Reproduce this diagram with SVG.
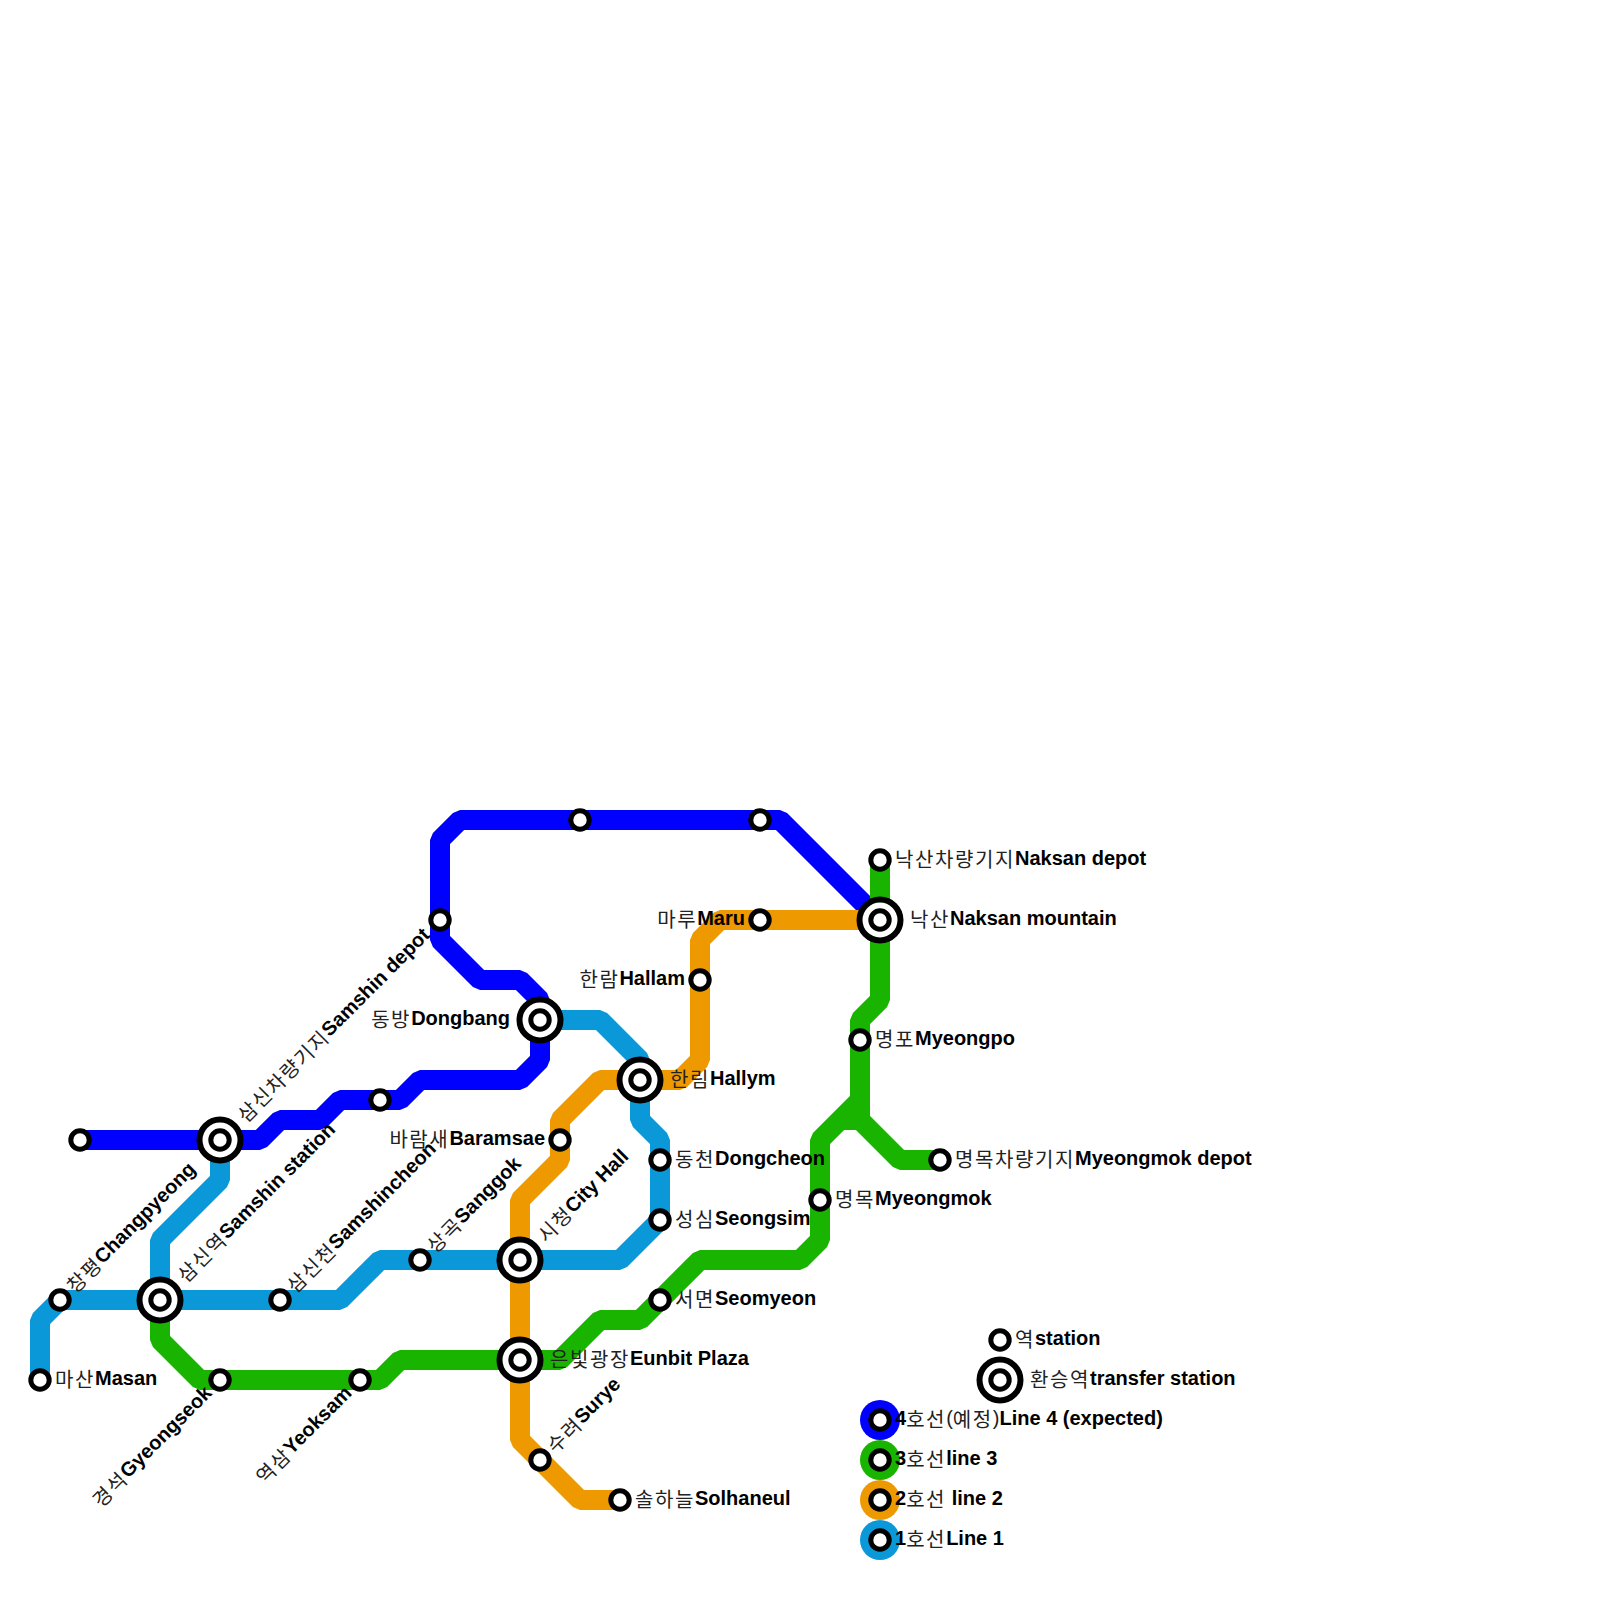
<svg xmlns="http://www.w3.org/2000/svg" width="1600" height="1600" viewBox="0 0 1600 1600">
<style>
.l{fill:none;stroke-width:20;stroke-linejoin:bevel;stroke-linecap:butt}
.l1{stroke:#0b98d8}.l2{stroke:#ee9900}.l3{stroke:#18b400}.l4{stroke:#0000ff}
.s{fill:#fff;stroke:#000;stroke-width:5}
.r{fill:#fff;stroke:#000;stroke-width:6}
.t{font-family:"Liberation Sans","Noto Sans CJK KR",sans-serif;font-size:20px;fill:#000;font-weight:bold}
.k{font-family:"Noto Sans CJK KR",sans-serif;font-weight:400;font-size:20px;letter-spacing:1.6px;fill:#222;baseline-shift:-1.5px}
.p{font-family:"Liberation Sans",sans-serif;font-weight:400;font-size:20px;fill:#222}
.e{text-anchor:end}
</style>
<defs>
<g id="st"><circle class="s" r="9.2"/></g>
<g id="tr"><circle class="r" r="20.5"/><circle class="s" r="9.2"/></g>
</defs>
<g id="connectors">
<path id="line4" class="l l4" d="M80 1140H260L280 1120H320L340 1100H400L420 1080H520L540 1060V1000L520 980H480L440 940V840L460 820H780L880 920"/>
<path id="line1" class="l l1" d="M40 1380V1320L60 1300H340L380 1260H620L660 1220V1140L640 1120V1060L600 1020H540"/>
<path id="line1b" class="l l1" d="M160 1300V1240L220 1180V1140"/>
<path id="line3" class="l l3" d="M880 860V1000L860 1020V1120L900 1160H940"/>
<path id="line3b" class="l l3" d="M860 1100L820 1140V1240L800 1260H700L640 1320H600L560 1360H400L380 1380H200L160 1340V1300"/>
<path id="line3c" class="l l3" d="M840 1120H860"/>
<path id="line2" class="l l2" d="M880 920H720L700 940V1060L680 1080H600L560 1120V1160L520 1200V1440L580 1500H620"/>
</g>
<g id="n-changpyeong"><use href="#st" x="60" y="1300"/><text class="t" transform="translate(60 1300) rotate(-45)" x="15" y="5"><tspan class="k">창평</tspan>Changpyeong</text></g>
<g id="n-masan"><use href="#st" x="40" y="1380"/><text class="t" x="55" y="1385"><tspan class="k">마산</tspan>Masan</text></g>
<g id="n-a"><use href="#st" x="80" y="1140"/></g>
<g id="n-depot"><use href="#tr" x="220" y="1140"/><text class="t" transform="translate(220 1140) rotate(-45)" x="30" y="5"><tspan class="k">삼신차량기지</tspan>Samshin depot</text></g>
<g id="n-samshin"><use href="#tr" x="160" y="1300"/><text class="t" transform="translate(160 1300) rotate(-45)" x="30" y="5"><tspan class="k">삼신역</tspan>Samshin station</text></g>
<g id="n-samshincheon"><use href="#st" x="280" y="1300"/><text class="t" transform="translate(280 1300) rotate(-45)" x="15" y="5"><tspan class="k">삼신천</tspan>Samshincheon</text></g>
<g id="n-b"><use href="#st" x="380" y="1100"/></g>
<g id="n-c"><use href="#st" x="440" y="920"/></g>
<g id="n-sanggok"><use href="#st" x="420" y="1260"/><text class="t" transform="translate(420 1260) rotate(-45)" x="15" y="5"><tspan class="k">상곡</tspan>Sanggok</text></g>
<g id="n-gyeongseok"><use href="#st" x="220" y="1380"/><text class="t e" transform="translate(220 1380) rotate(-45)" x="-15" y="5"><tspan class="k">경석</tspan>Gyeongseok</text></g>
<g id="n-yeoksam"><use href="#st" x="360" y="1380"/><text class="t e" transform="translate(360 1380) rotate(-45)" x="-15" y="5"><tspan class="k">역삼</tspan>Yeoksam</text></g>
<g id="n-cityhall"><use href="#tr" x="520" y="1260"/><text class="t" transform="translate(520 1260) rotate(-45)" x="30" y="5"><tspan class="k">시청</tspan>City Hall</text></g>
<g id="n-eunbit"><use href="#tr" x="520" y="1360"/><text class="t" x="550" y="1365"><tspan class="k">은빛광장</tspan>Eunbit Plaza</text></g>
<g id="n-surye"><use href="#st" x="540" y="1460"/><text class="t" transform="translate(540 1460) rotate(-45)" x="15" y="5"><tspan class="k">수려</tspan>Surye</text></g>
<g id="n-solhaneul"><use href="#st" x="620" y="1500"/><text class="t" x="635" y="1505"><tspan class="k">솔하늘</tspan>Solhaneul</text></g>
<g id="n-dongbang"><use href="#tr" x="540" y="1020"/><text class="t e" x="510" y="1025"><tspan class="k">동방</tspan>Dongbang</text></g>
<g id="n-d"><use href="#st" x="580" y="820"/></g>
<g id="n-e"><use href="#st" x="760" y="820"/></g>
<g id="n-maru"><use href="#st" x="760" y="920"/><text class="t e" x="745" y="925"><tspan class="k">마루</tspan>Maru</text></g>
<g id="n-hallam"><use href="#st" x="700" y="980"/><text class="t e" x="685" y="985"><tspan class="k">한람</tspan>Hallam</text></g>
<g id="n-hallym"><use href="#tr" x="640" y="1080"/><text class="t" x="670" y="1085"><tspan class="k">한림</tspan>Hallym</text></g>
<g id="n-baramsae"><use href="#st" x="560" y="1140"/><text class="t e" x="545" y="1145"><tspan class="k">바람새</tspan>Baramsae</text></g>
<g id="n-dongcheon"><use href="#st" x="660" y="1160"/><text class="t" x="675" y="1165"><tspan class="k">동천</tspan>Dongcheon</text></g>
<g id="n-seongsim"><use href="#st" x="660" y="1220"/><text class="t" x="675" y="1225"><tspan class="k">성심</tspan>Seongsim</text></g>
<g id="n-seomyeon"><use href="#st" x="660" y="1300"/><text class="t" x="675" y="1305"><tspan class="k">서면</tspan>Seomyeon</text></g>
<g id="n-myeongmok"><use href="#st" x="820" y="1200"/><text class="t" x="835" y="1205"><tspan class="k">명목</tspan>Myeongmok</text></g>
<g id="n-myeongpo"><use href="#st" x="860" y="1040"/><text class="t" x="875" y="1045"><tspan class="k">명포</tspan>Myeongpo</text></g>
<g id="n-mdepot"><use href="#st" x="940" y="1160"/><text class="t" x="955" y="1165"><tspan class="k">명목차량기지</tspan>Myeongmok depot</text></g>
<g id="n-ndepot"><use href="#st" x="880" y="860"/><text class="t" x="895" y="865"><tspan class="k">낙산차량기지</tspan>Naksan depot</text></g>
<g id="n-naksan"><use href="#tr" x="880" y="920"/><text class="t" x="910" y="925"><tspan class="k">낙산</tspan>Naksan mountain</text></g>
<g id="legend-station"><use href="#st" x="1000" y="1340"/><text class="t" x="1015" y="1345"><tspan class="k">역</tspan>station</text></g>
<g id="legend-transfer"><use href="#tr" x="1000" y="1380"/><text class="t" x="1030" y="1385"><tspan class="k">환승역</tspan>transfer station</text></g>
<g id="legend-4"><circle cx="880" cy="1420" r="20" fill="#0000ff"/><use href="#st" x="880" y="1420"/><text class="t" x="895" y="1425">4<tspan class="k">호선</tspan><tspan class="p">(</tspan><tspan class="k">예정</tspan><tspan class="p">)</tspan>Line 4 (expected)</text></g>
<g id="legend-3"><circle cx="880" cy="1460" r="20" fill="#18b400"/><use href="#st" x="880" y="1460"/><text class="t" x="895" y="1465">3<tspan class="k">호선</tspan>line 3</text></g>
<g id="legend-2"><circle cx="880" cy="1500" r="20" fill="#ee9900"/><use href="#st" x="880" y="1500"/><text class="t" x="895" y="1505">2<tspan class="k">호선</tspan> line 2</text></g>
<g id="legend-1"><circle cx="880" cy="1540" r="20" fill="#0b98d8"/><use href="#st" x="880" y="1540"/><text class="t" x="895" y="1545">1<tspan class="k">호선</tspan>Line 1</text></g>
</svg>
